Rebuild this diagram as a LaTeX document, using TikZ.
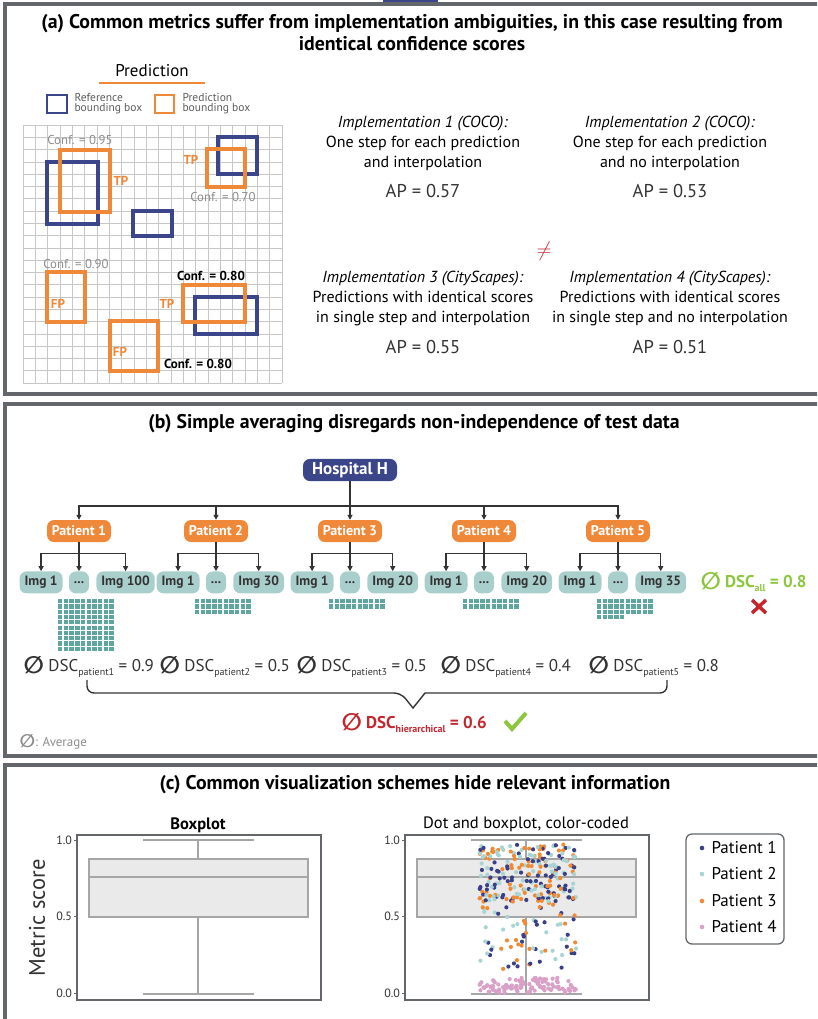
\documentclass[tikz,border=0pt]{standalone}
\usepackage{fontspec}
\setmainfont{PT Sans}
\newfontfamily\symfont{DejaVu Sans}
\usepackage{xcolor}
\usepackage{graphicx}
\usepackage{tikz}
\usetikzlibrary{positioning,arrows.meta}
\definecolor{navy}{HTML}{3B4589}
\definecolor{orng}{HTML}{F0883A}
\definecolor{imgteal}{HTML}{A9CFCD}
\definecolor{sqteal}{HTML}{5FA5A0}
\definecolor{lgreen}{HTML}{8CC63E}
\definecolor{dred}{HTML}{C4262E}
\definecolor{framegray}{HTML}{63676B}
\definecolor{ink}{HTML}{333333}
\definecolor{confgray}{HTML}{8C8C8C}
\definecolor{boxgray}{HTML}{A6A6A6}
\definecolor{boxfill}{HTML}{E9EAE9}
\definecolor{pta}{HTML}{3B3F86}
\definecolor{ptb}{HTML}{A8D5D3}
\definecolor{ptc}{HTML}{F08A33}
\definecolor{ptd}{HTML}{D9A0C8}
\newcommand{\fsz}[2]{\fontsize{#1}{#2}\selectfont}
\newcommand{\avg}{\raisebox{-0.12em}{\scalebox{1.4}{\symfont\bfseries ∅}}}
\newcommand{\dscsub}[1]{\raisebox{-4pt}{\fsz{10}{10}#1}}
\tikzset{
  panel/.style={draw=framegray,line width=3.5pt},
  gridline/.style={draw=black!22,line width=0.7pt},
  refbox/.style={draw=navy,line width=3.2pt},
  predbox/.style={draw=orng,line width=3.2pt},
  conf/.style={text=confgray,font=\fsz{12.8}{13}},
  confb/.style={text=black,font=\fsz{13}{13}\bfseries},
  tpfp/.style={text=orng,font=\fsz{13}{13}\bfseries},
  impl/.style={align=center,font=\fsz{16}{20}},
  apval/.style={text=ink,font=\fsz{18.5}{18.5}},
  heading/.style={font=\fsz{19.8}{22}\bfseries,align=center},
  hospbox/.style={fill=navy,text=white,rounded corners=7pt,minimum width=94pt,minimum height=22pt,font=\fsz{17}{17}\bfseries},
  patbox/.style={fill=orng,text=white,rounded corners=7pt,minimum width=64pt,minimum height=22pt,font=\fsz{14}{14}\bfseries},
  imgbox/.style={fill=imgteal,text=ink,rounded corners=7pt,minimum height=22pt,inner xsep=5pt,font=\fsz{13.5}{13.5}\bfseries},
  conn/.style={draw=ink,line width=1.4pt},
  arr/.style={conn,-{Triangle[length=5pt,width=5pt]}},
  dsc/.style={anchor=west,text=ink,font=\fsz{17}{17}},
  axframe/.style={draw=framegray,line width=1.8pt},
  bxp/.style={draw=boxgray,line width=2.6pt},
  ticklbl/.style={text=ink,font=\fsz{12}{12},left,inner sep=1.5pt}
}
\begin{document}
\begin{tikzpicture}[x=1pt,y=-1pt]
\useasboundingbox (0,0) rectangle (817,1019);
\clip (0,0) rectangle (817,1019);

\fill[navy] (383,0) rectangle (438,3);
\draw[panel] (5,4) rectangle (822,394);
\node[heading] (titleA) at (412,33) {(a) Common metrics suffer from implementation ambiguities, in this case resulting from\\identical confidence scores};
\node[font=\fsz{17}{17}] (predlbl) at (152,71) {Prediction};
\draw[orng,line width=2.5pt] (99,83) -- (205,83);
\draw[refbox,line width=2.7pt] (47,95) rectangle (67,113);
\node[anchor=west,align=left,text=ink!80,font=\fsz{11.5}{10}] (reflbl) at (71,104) {Reference\\bounding box};
\draw[predbox,line width=2.7pt] (155,95) rectangle (174,113);
\node[anchor=west,align=left,text=ink!80,font=\fsz{11.5}{10}] (predboxlbl) at (179,104) {Prediction\\bounding box};

\foreach \i in {0,...,21}{
  \draw[gridline] ({23+\i*12.333},125) -- ({23+\i*12.333},383);
  \draw[gridline] (23,{125+\i*12.286}) -- (282,{125+\i*12.286});}
\draw[refbox] (47,162) rectangle (98,224);\draw[refbox] (218,137) rectangle (257,174);
\draw[refbox] (133,211) rectangle (172,236);\draw[refbox] (195,297) rectangle (257,334);
\draw[predbox] (60,150) rectangle (110,212);\draw[predbox] (207,149) rectangle (245,187);
\draw[predbox] (47,272) rectangle (85,322);\draw[predbox] (183,285) rectangle (245,322);
\draw[predbox] (110,321) rectangle (158,371);
\node[conf] (conf1) at (80,140) {Conf. = 0.95};\node[tpfp] (tp1) at (121,181) {TP};
\node[tpfp] (tp2) at (191,160) {TP};\node[conf] (conf2) at (223,197) {Conf. = 0.70};
\node[conf] (conf3) at (76,264) {Conf. = 0.90};\node[tpfp] (fp1) at (58,304) {FP};
\node[confb] (conf4) at (211,276) {Conf. = 0.80};\node[tpfp] (tp3) at (167,304) {TP};
\node[tpfp] (fp2) at (120,352) {FP};\node[confb] (conf5) at (198,364) {Conf. = 0.80};

\node[impl] (impl1) at (423,143) {\textit{Implementation 1 (COCO):}\\One step for each prediction\\and interpolation};
\node[apval] (ap1) at (423,191) {AP = 0.57};
\node[impl] (impl2) at (670,143) {\textit{Implementation 2 (COCO):}\\One step for each prediction\\and no interpolation};
\node[apval] (ap2) at (670,191) {AP = 0.53};
\node[text=dred,font=\fsz{20}{20}] (neq) at (544,251) {$\neq$};
\node[impl] (impl3) at (423,298) {\textit{Implementation 3 (CityScapes):}\\Predictions with identical scores\\in single step and interpolation};
\node[apval] (ap3) at (423,347) {AP = 0.55};
\node[impl] (impl4) at (670,298) {\textit{Implementation 4 (CityScapes):}\\Predictions with identical scores\\in single step and no interpolation};
\node[apval] (ap4) at (670,347) {AP = 0.51};

\draw[panel] (5,404) rectangle (822,756);
\node[heading] (titleB) at (414,424) {(b) Simple averaging disregards non-independence of test data};
\node[hospbox] (hosp) at (350,470) {Hospital H};
\coordinate (bus) at (350,506);
\draw[conn] (hosp) -- (bus);
\foreach \k/\n/\x in {1/100/79,2/30/216,3/20/350,4/20/484,5/35/618}{
  \node[patbox] (p\k) at (\x,531) {Patient \k};
  \draw[arr] (bus) -| (p\k);
  \node[imgbox,minimum width=20pt,inner xsep=2pt,below=29pt of p\k] (d\k) {...};
  \node[imgbox,left=6pt of d\k] (a\k) {Img 1};
  \node[imgbox,right=7pt of d\k] (b\k) {Img \n};
  \coordinate[below=11pt of p\k] (j\k);
  \draw[conn] (p\k) -- (j\k);
  \draw[arr] (j\k) -| (a\k);\draw[arr] (j\k) -- (d\k);\draw[arr] (j\k) -| (b\k);
  \foreach \m in {1,...,\n}{
    \pgfmathtruncatemacro\rw{(\m-1)/10}
    \pgfmathtruncatemacro\cl{mod(\m-1,10)}
    \fill[sqteal] ({\x-21+\cl*5.7},{599+\rw*5.3}) rectangle ++(4.4,4.2);}
}
\foreach \k/\v/\x in {1/0.9/20,2/0.5/156,3/0.5/293,4/0.4/437,5/0.8/585}
  \node[dsc] (s\k) at (\x,667) {\avg\ DSC\dscsub{patient\k} = \v};
\draw[conn] (87,680) [rounded corners=7pt] -- (87,693) -- (401,693) [sharp corners] -- (413,708) -- (425,693) [rounded corners=7pt] -- (667,693) -- (667,680);
\node[anchor=west,text=dred,font=\fsz{17}{17}\bfseries] (shier) at (338,723) {\avg\ DSC\dscsub{hierarchical} = 0.6};
\draw[lgreen,line width=4pt] (505,721) -- (512,729) -- (526,713);
\node[anchor=west,text=lgreen,font=\fsz{17}{17}\bfseries] (sall) at (697,582) {\avg\ DSC\dscsub{all} = 0.8};
\draw[dred,line width=3.5pt] (752,600) -- (766,613) (752,613) -- (766,600);
\node[anchor=west,text=black!45,font=\fsz{13}{13}] (avglbl) at (16,742) {\avg: Average};

\draw[panel] (5,765) rectangle (822,1030);
\node[heading] (titleC) at (415,785) {(c) Common visualization schemes hide relevant information};
\node[font=\fsz{16.5}{16.5}\bfseries] (bpttl) at (198,825) {Boxplot};
\node[font=\fsz{16.5}{16.5}] (dbttl) at (526,824) {Dot and boxplot, color-coded};
\node[rotate=90,text=ink,font=\fsz{22.5}{22.5}] (ylbl) at (37,918) {Metric score};
\foreach \off in {0,328}{
  \begin{scope}[xshift=\off pt]
  \filldraw[bxp,fill=boxfill] (89,859) rectangle (308,917);
  \draw[bxp] (89,877) -- (308,877) (198,859) -- (198,840) (143,840) -- (254,840) (198,917) -- (198,994) (143,994) -- (254,994);
  \end{scope}}
\pgfmathsetseed{42}
\foreach \i in {1,...,105}{
  \foreach \col in {pta,ptb,ptc}{
    \pgfmathsetmacro\dx{479+97*rnd}
    \pgfmathsetmacro\dv{rnd<0.8 ? 0.6+0.37*rnd : 0.15+0.45*rnd}
    \fill[\col] (\dx,{993-153*\dv}) circle[radius=2.1pt];}
  \pgfmathsetmacro\dx{479+97*rnd}
  \pgfmathsetmacro\dv{0.1*rnd}
  \fill[ptd] (\dx,{993-153*\dv}) circle[radius=2.1pt];}
\foreach \off in {0,328}{
  \draw[axframe] ({77+\off},835) rectangle ({321+\off},1000);
  \foreach \v/\t/\q in {0/0.0/a,0.5/0.5/b,1/1.0/c}
    \draw[framegray,line width=1pt] ({77+\off},{993-153*\v}) -- ++(-3,0) node[ticklbl] (tk\off\q) {\t};}
\draw[framegray,line width=1.3pt,rounded corners=6pt] (686,834) rectangle (784,944);
\foreach \k/\col/\y in {1/pta/848,2/ptb/874,3/ptc/901,4/ptd/927}{
  \fill[\col] (702,\y) circle[radius=2.3pt];
  \node[anchor=west,text=black,font=\fsz{17}{17}] (lg\k) at (708,\y) {Patient \k};}
\end{tikzpicture}
\end{document}
